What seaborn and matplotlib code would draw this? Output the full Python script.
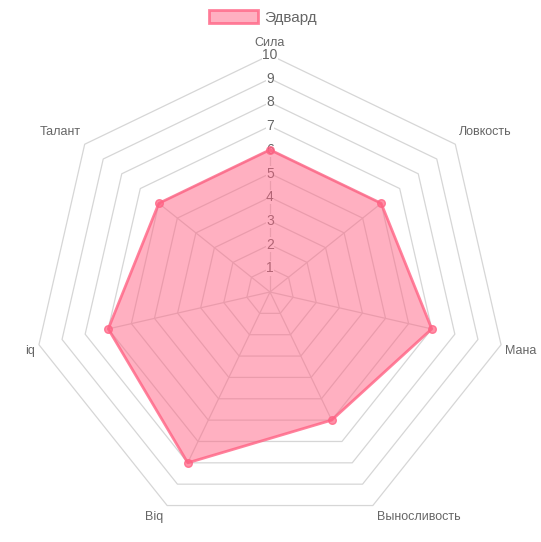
import matplotlib
matplotlib.use("Agg")
import matplotlib.pyplot as plt
import numpy as np
import seaborn as sns

# chart data
categories = ['Сила', 'Ловкость', 'Мана', 'Выносливость', 'Biq', 'iq', 'Талант']
values = [6, 6, 7, 6, 8, 7, 6]
series_name = 'Эдвард'
levels = list(range(1, 11))

line_col = (1.0, 99 / 255, 132 / 255, 0.8)
fill_col = (1.0, 99 / 255, 132 / 255, 0.5)
point_col = (1.0, 99 / 255, 132 / 255, 0.7)
grid_col = '#d6d6d6'
text_col = '#666666'

sns.set_theme(style='white')
plt.rcParams['font.family'] = ['Liberation Sans', 'DejaVu Sans']

fig = plt.figure(figsize=(5.41, 5.42), dpi=100)
ax = fig.add_axes([0, 0, 1, 1])

# pixel geometry of the reference: center (270, 292), 23.7 px per unit
cx, cy, unit = 270, 292, 23.7
ax.set_xlim(-cx / unit, (541 - cx) / unit)
ax.set_ylim(-(542 - cy) / unit, cy / unit)
ax.set_axis_off()

n = len(categories)
theta = np.arange(n) * 2 * np.pi / n
sx, cs = np.sin(theta), np.cos(theta)

# polygon grid rings
for lv in levels:
    ax.plot(np.append(lv * sx, lv * sx[0]), np.append(lv * cs, lv * cs[0]),
            color=grid_col, lw=0.9, zorder=1)

vals = np.array(values, dtype=float)

# spokes (only visible up to the data point)
for v, s, c in zip(vals, sx, cs):
    ax.plot([0, v * s], [0, v * c], color=grid_col, lw=0.9, zorder=1)

# tick labels (under the fill)
for lv in levels:
    ax.text(0, lv, str(lv), ha='center', va='center', fontsize=10, color=text_col,
            zorder=1.5, bbox=dict(facecolor='white', edgecolor='none', pad=0.2))

# data polygon
px, py = vals * sx, vals * cs
ax.fill(px, py, color=fill_col, lw=0, zorder=2)
ax.plot(np.append(px, px[0]), np.append(py, py[0]), color=line_col, lw=2.0, zorder=3)
sns.scatterplot(x=px, y=py, ax=ax, s=30, color=point_col, edgecolor=line_col,
                linewidth=1.0, zorder=4, legend=False)

# point labels
for name, s, c in zip(categories, sx, cs):
    if s > 0.05:
        ha, dx = 'left', 4
    elif s < -0.05:
        ha, dx = 'right', -4
    else:
        ha, dx = 'center', 0
    if c > 0:
        dy = 12
    elif c > -0.5:
        dy = -6
    else:
        dy = -11
    ax.annotate(name, (10 * s, 10 * c), xytext=(dx, dy), textcoords='offset pixels',
                ha=ha, va='center', fontsize=9, color=text_col, zorder=5)

# legend
ax.fill([], [], color=fill_col, ec=line_col, lw=2, label=series_name)
leg = ax.legend(loc='upper center', bbox_to_anchor=(0.486, 1.006), frameon=False,
                fontsize=11, handlelength=3.2, handleheight=0.9, handletextpad=0.35)
for t in leg.get_texts():
    t.set_color(text_col)

fig.savefig('out.png', dpi=100)
